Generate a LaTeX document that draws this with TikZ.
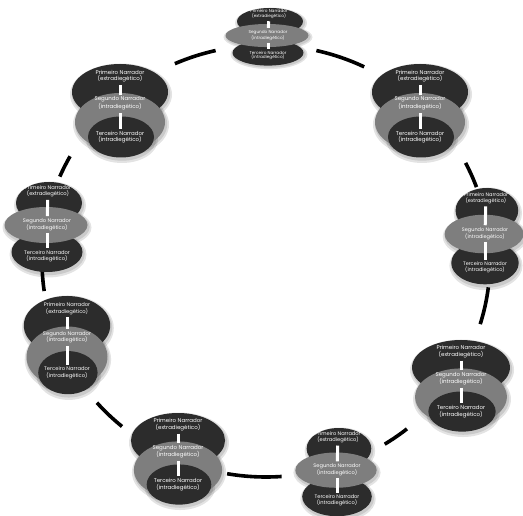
\documentclass[tikz,border=0pt]{standalone}
\usepackage{fontspec}
\setmainfont{Poppins}
\definecolor{darkfill}{RGB}{44,44,44}
\definecolor{grayfill}{RGB}{126,126,126}
\tikzset{
  dk/.style={fill=darkfill},
  gy/.style={fill=grayfill},
  shd/.style={fill=black, opacity=0.11},
  lbl/.style={text=white, align=center, inner sep=0pt},
  barline/.style={draw=white, line width=3pt, shorten <=2.5pt, shorten >=2pt},
  ring/.style={draw=black, line width=3.6pt},
}
\newcommand{\softell}[4]{%
  \fill[shd] (#1+1,#2+2.5) ellipse [x radius=#3+3, y radius=#4+3];
  \fill[shd] (#1+1,#2+2) ellipse [x radius=#3+1.2, y radius=#4+1.2];}
% #1 prefix, #2 cx, #3 top, #4 xscale, #5 yscale, #6 font size, #7 baselineskip
\newcommand{\funnelcluster}[7]{%
\begin{scope}[shift={(#2,#3)}, xscale=#4, yscale=#5]
  \softell{0}{28}{48}{28}
  \softell{0}{58}{45}{29}
  \softell{1}{73}{33}{20.5}
  \fill[dk] (0,28) ellipse [x radius=48, y radius=28];
  \fill[gy] (0,58) ellipse [x radius=45, y radius=29];
  \fill[dk] (1,73) ellipse [x radius=33, y radius=20.5];
  \node[lbl, font=\fontsize{#6}{#7}\selectfont] (#1-a) at (0,12) {Primeiro Narrador\\(extradiegético)};
  \node[lbl, font=\fontsize{#6}{#7}\selectfont] (#1-b) at (0,39.5) {Segundo Narrador\\(intradiegético)};
  \node[lbl, font=\fontsize{#6}{#7}\selectfont] (#1-c) at (0,73) {Terceiro Narrador\\(intradiegético)};
  \draw[barline] (#1-a) -- (#1-b);
  \draw[barline] (#1-b) -- (#1-c);
\end{scope}}
\newcommand{\stackcluster}[7]{%
\begin{scope}[shift={(#2,#3)}, xscale=#4, yscale=#5]
  \softell{2}{21}{33}{21}
  \softell{0}{70}{35.5}{20}
  \softell{-1}{43}{41.5}{18}
  \fill[dk] (2,21) ellipse [x radius=33, y radius=21];
  \fill[dk] (0,70) ellipse [x radius=35.5, y radius=20];
  \fill[gy] (-1,43) ellipse [x radius=41.5, y radius=18];
  \node[lbl, font=\fontsize{#6}{#7}\selectfont] (#1-a) at (1,9.5) {Primeiro Narrador\\(extradiegético)};
  \node[lbl, font=\fontsize{#6}{#7}\selectfont] (#1-b) at (0,42.5) {Segundo Narrador\\(intradiegético)};
  \node[lbl, font=\fontsize{#6}{#7}\selectfont] (#1-c) at (0,74) {Terceiro Narrador\\(intradiegético)};
  \draw[barline] (#1-a) -- (#1-b);
  \draw[barline] (#1-b) -- (#1-c);
\end{scope}}
\begin{document}
\begin{tikzpicture}[x=1pt, y=-1pt]
  \useasboundingbox[fill=white] (0,0) rectangle (523,516);
  \coordinate (ctr) at (266,261);
  % ring segments
  \foreach \ta/\tb in {246/257, 283/296, 333/340, 7/17, 51/58, 86/100, 130/139, 172/180, 203/209}{
    \draw[ring] (ctr) ++(\ta:224 and 216) arc[start angle=\ta, end angle=\tb, x radius=224, y radius=216];
  }
  % clusters
  \stackcluster{top}{268}{8}{1.0}{0.64}{4.2}{4.6}
  \funnelcluster{ul}{120}{64}{1}{1}{5.5}{6.6}
  \funnelcluster{ur}{420}{64}{1}{1}{5.5}{6.6}
  \stackcluster{lf}{47}{182}{1}{1}{5.2}{5.9}
  \stackcluster{rt}{485}{188}{0.95}{1.07}{5.0}{5.8}
  \funnelcluster{ll}{67}{296}{0.9}{1.05}{5.2}{6.4}
  \funnelcluster{lr}{461}{340}{1.02}{0.98}{5.5}{6.6}
  \funnelcluster{bl}{178}{413}{0.98}{0.98}{5.5}{6.6}
  \stackcluster{bt}{337}{428}{0.98}{0.98}{5.1}{5.8}
\end{tikzpicture}
\end{document}
